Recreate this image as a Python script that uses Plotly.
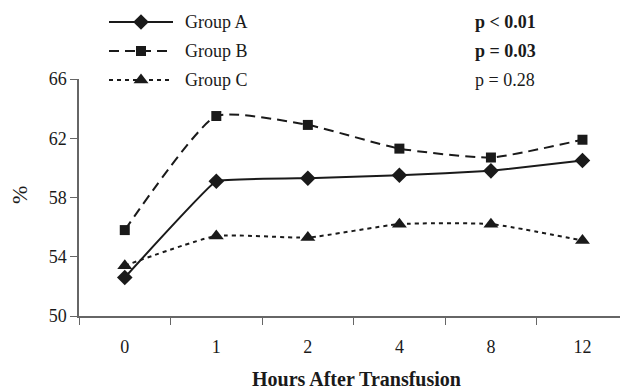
import plotly.graph_objects as go

hours = ["0", "1", "2", "4", "8", "12"]
group_a = [52.6, 59.1, 59.3, 59.5, 59.8, 60.5]
group_b = [55.8, 63.5, 62.9, 61.3, 60.7, 61.9]
group_c = [53.4, 55.4, 55.3, 56.2, 56.2, 55.1]
names = ["Group A", "Group B", "Group C"]
p_labels = ["<b>p < 0.01</b>", "<b>p = 0.03</b>", "p = 0.28"]
y_ticks = [50, 54, 58, 62, 66]

W, H = 620, 389
L, T, B = 79, 79, 316
FONT = "Liberation Serif"
INK = "#1a1a1a"

styles = [
    dict(dash="solid", symbol="diamond", size=12, smooth=0.2),
    dict(dash="10px,6px", symbol="square", size=10, smooth=0.5),
    dict(dash="4px,4px", symbol="triangle-up", size=13, smooth=0.5),
]

fig = go.Figure()
for name, vals, st in zip(names, [group_a, group_b, group_c], styles):
    fig.add_trace(go.Scatter(
        x=hours, y=vals, name=name, mode="lines+markers",
        line=dict(color=INK, width=2, dash=st["dash"], shape="spline", smoothing=st["smooth"]),
        marker=dict(symbol=st["symbol"], size=st["size"], color=INK),
        showlegend=False, cliponaxis=False,
    ))

# custom legend drawn in pixel space (separate full-page axes)
leg_rows = [22, 51, 80]
for name, st, ry, pl in zip(names, styles, leg_rows, p_labels):
    fig.add_trace(go.Scatter(
        x=[109, 173], y=[ry, ry], xaxis="x2", yaxis="y2", mode="lines",
        line=dict(color=INK, width=2, dash=st["dash"]),
        showlegend=False, hoverinfo="skip",
    ))
    fig.add_trace(go.Scatter(
        x=[141], y=[ry], xaxis="x2", yaxis="y2", mode="markers",
        marker=dict(symbol=st["symbol"], size=st["size"], color=INK),
        showlegend=False, hoverinfo="skip",
    ))
    fig.add_annotation(x=183, y=ry, xref="x2", yref="y2", text=name, showarrow=False,
                       xanchor="left", yanchor="middle", font=dict(family=FONT, size=18, color=INK))
    fig.add_annotation(x=473, y=ry, xref="x2", yref="y2", text=pl, showarrow=False,
                       xanchor="left", yanchor="middle", font=dict(family=FONT, size=18, color=INK))

fig.add_annotation(x=19, y=195, xref="x2", yref="y2", text="%", showarrow=False,
                   textangle=-90, font=dict(family=FONT, size=22, color=INK))
fig.add_annotation(x=356, y=379, xref="x2", yref="y2", text="<b>Hours After Transfusion</b>",
                   showarrow=False, font=dict(family=FONT, size=20, color=INK))

fig.update_layout(
    width=W, height=H,
    margin=dict(l=0, r=0, t=0, b=0),
    paper_bgcolor="white", plot_bgcolor="rgba(0,0,0,0)",
    showlegend=False,
    xaxis=dict(
        domain=[L / W, 1], type="category", categoryorder="array", categoryarray=hours,
        range=[-0.5, 5.41], tickson="boundaries", ticks="outside", ticklen=7,
        tickcolor="#666", showline=True, linecolor="#666", linewidth=1.5,
        showgrid=False, zeroline=False, automargin=False, anchor="y",
        tickfont=dict(family=FONT, size=18, color=INK), ticklabelstandoff=14,
    ),
    yaxis=dict(
        domain=[(H - B) / H, (H - T) / H], range=[50, 66], tickvals=y_ticks,
        ticks="outside", ticklen=7, tickcolor="#666", showline=True,
        linecolor="#666", linewidth=1.5, showgrid=False, zeroline=False, anchor="x",
        automargin=False, tickfont=dict(family=FONT, size=18, color=INK),
    ),
    xaxis2=dict(domain=[0, 1], range=[0, W], visible=False, fixedrange=True, anchor="y2"),
    yaxis2=dict(domain=[0, 1], range=[H, 0], visible=False, fixedrange=True, anchor="x2"),
)

fig.write_html("out.html", config={"displayModeBar": False},
               post_script="document.body.style.margin='0';")
